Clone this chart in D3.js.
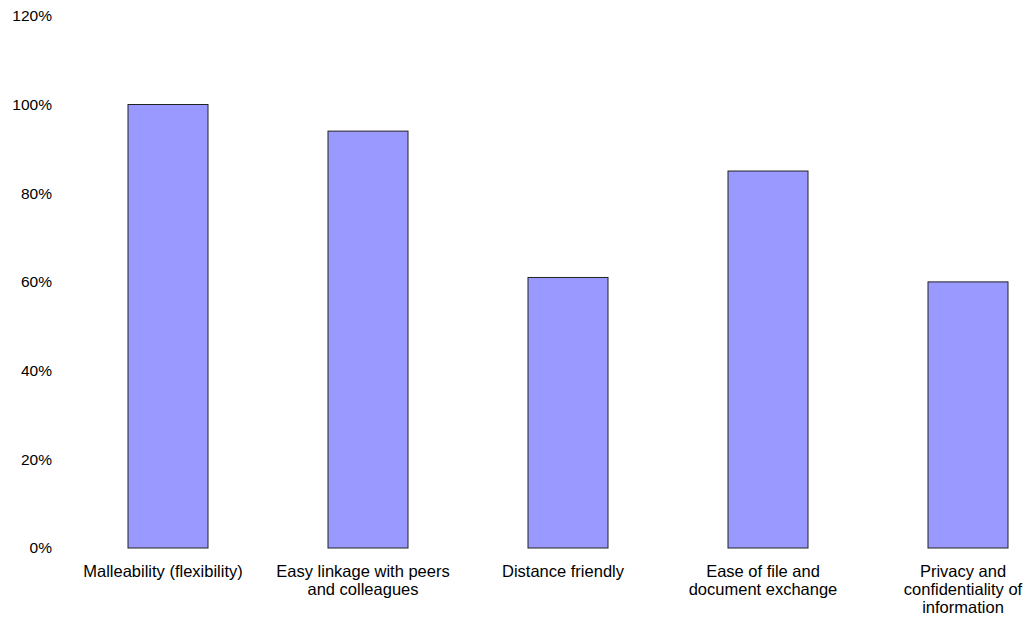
<!DOCTYPE html>
<html>
<head>
<meta charset="utf-8">
<script src="https://cdn.jsdelivr.net/npm/d3@7"></script>
<style>
  body { margin: 0; background: #fff; }
  text { font-family: "Liberation Sans", Arial, sans-serif; font-size: 16.5px; fill: #000; }
</style>
</head>
<body>
<div id="chart"></div>
<script>
const categories = [
    ['Malleability (flexibility)'],
    ['Easy linkage with peers', 'and colleagues'],
    ['Distance friendly'],
    ['Ease of file and', 'document exchange'],
    ['Privacy and', 'confidentiality of', 'information']
];
const values = [1.00, 0.94, 0.61, 0.85, 0.60];
const yTicks = [0, 0.2, 0.4, 0.6, 0.8, 1.0, 1.2];

const width = 1026, height = 619;

const svg = d3.select('#chart').append('svg')
    .attr('width', width)
    .attr('height', height);

let xScale = d3.scaleBand()
    .domain(d3.range(categories.length))
    .range([68, 1068])
    .paddingInner(0.6)
    .paddingOuter(0.3);

let yScale = d3.scaleLinear()
    .domain([0, 1.2])
    .range([548, 15.8]);

// y labels, no axis line
let yAxis = d3.axisLeft(yScale)
    .tickValues(yTicks)
    .tickFormat(d3.format('.0%'))
    .tickSize(0)
    .tickPadding(0);

let yAxisGroup = svg.append('g')
    .attr('transform', 'translate(52,0)')
    .call(yAxis);
yAxisGroup.select('.domain').remove();
yAxisGroup.selectAll('text')
    .style('font-family', '"Liberation Sans", Arial, sans-serif')
    .style('font-size', '15.5px')
    .attr('fill', '#000');

// bars
svg.selectAll('rect.bar')
    .data(values)
    .enter().append('rect')
    .attr('class', 'bar')
    .attr('x', (d, i) => xScale(i))
    .attr('y', d => yScale(d))
    .attr('width', xScale.bandwidth())
    .attr('height', d => yScale(0) - yScale(d))
    .attr('fill', '#9999ff')
    .attr('stroke', '#222')
    .attr('stroke-width', 1);

// category labels, sit a little left of bar centre
const labelX = i => xScale(i) + xScale.bandwidth() / 2 - 5;

let labels = svg.selectAll('text.cat')
    .data(categories)
    .enter().append('text')
    .attr('class', 'cat')
    .attr('text-anchor', 'middle')
    .attr('x', (d, i) => labelX(i))
    .attr('y', 577);

labels.selectAll('tspan')
    .data((d, i) => d.map(line => ({line, i})))
    .enter().append('tspan')
    .attr('x', d => labelX(d.i))
    .attr('dy', (d, j) => j === 0 ? 0 : 18)
    .text(d => d.line);
</script>
</body>
</html>
